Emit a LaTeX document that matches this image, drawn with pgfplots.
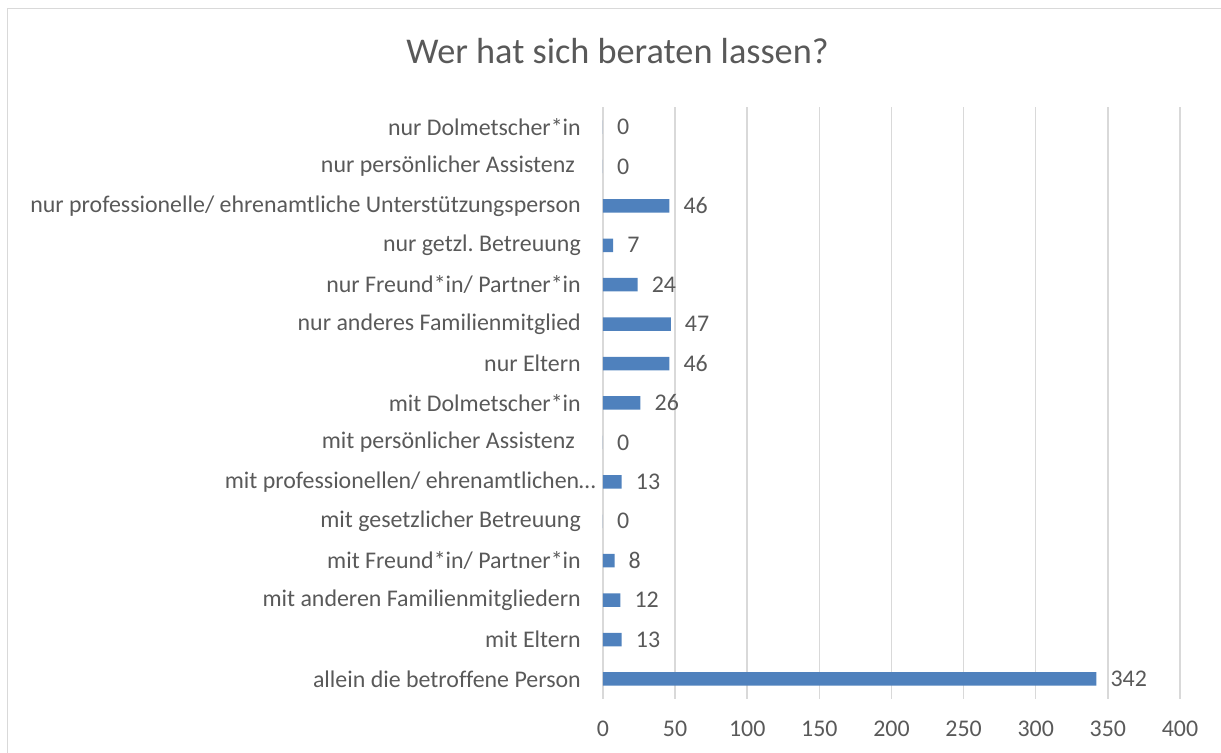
\documentclass[border=0pt]{standalone}
\usepackage{fontspec}
\setmainfont{Carlito}[Ligatures=NoCommon]
\usepackage{pgfplots}
\pgfplotsset{compat=1.18}
\definecolor{txt}{HTML}{595959}
\definecolor{gridc}{HTML}{D9D9D9}
\definecolor{barblue}{HTML}{4F81BD}
\frenchspacing

\begin{document}
\begin{tikzpicture}
% frame of the chart area and page size (1px = 1bp, origin at plot corner)
\path[use as bounding box] (-603bp,-54.3bp) rectangle (618bp,698.7bp);
\draw[gridc, line width=1.5bp] (-595.5bp,-70bp) -- (-595.5bp,690.2bp) -- (640bp,690.2bp);
\node[anchor=base, text=txt, font=\fontsize{36.4}{42}\selectfont] at (14.5bp,635.4bp) {Wer hat sich beraten lassen?};
\begin{axis}[
    at={(0,0)}, anchor=south west,
    scale only axis,
    width=577bp, height=591.4bp,
    xbar, bar width=13.5bp,
    xmin=0, xmax=400, ymin=-0.5, ymax=14.5,
    enlargelimits=false,
    xtick={0,50,...,400},
    ytick={0,...,14},
    yticklabels={
        allein die betroffene Person,
        mit Eltern,
        mit anderen Familienmitgliedern,
        mit Freund*in/ Partner*in,
        mit gesetzlicher Betreuung,
        {mit professionellen/ ehrenamtlichen…\kern-15bp},
        {mit persönlicher Assistenz\kern6bp},
        mit Dolmetscher*in,
        nur Eltern,
        nur anderes Familienmitglied,
        nur Freund*in/ Partner*in,
        nur getzl. Betreuung,
        nur professionelle/ ehrenamtliche Unterstützungsperson,
        {nur persönlicher Assistenz\kern6bp},
        nur Dolmetscher*in
    },
    xmajorgrids,
    grid style={gridc, line width=1.5bp},
    axis line style={draw=none},
    major tick length=0pt,
    /pgf/number format/assume math mode=true,
    tick label style={font=\fontsize{24}{28}\selectfont, text=txt},
    yticklabel style={anchor=east, inner sep=0pt, xshift=-22bp},
    xticklabel style={anchor=north, inner sep=0pt, yshift=-22.3bp},
    point meta=x,
    nodes near coords,
    nodes near coords style={anchor=west, inner sep=0pt, xshift=14bp,
        font=\fontsize{24}{28}\selectfont, text=txt},
]
\addplot[fill=barblue, draw=none] coordinates {
    (342,0)
    (13,1)
    (12,2)
    (8,3)
    (0,4)
    (13,5)
    (0,6)
    (26,7)
    (46,8)
    (47,9)
    (24,10)
    (7,11)
    (46,12)
    (0,13)
    (0,14)
};
\end{axis}
\end{tikzpicture}
\end{document}
